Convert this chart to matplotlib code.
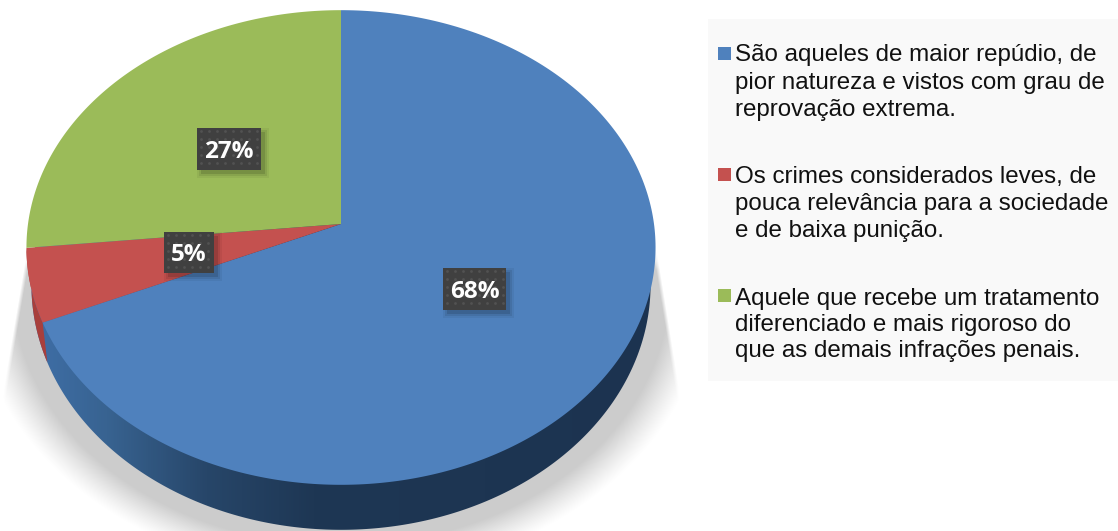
import numpy as np
import matplotlib
matplotlib.use("Agg")
import matplotlib.pyplot as plt
from matplotlib.patches import Rectangle, Polygon
from matplotlib.colors import LinearSegmentedColormap

values = [68.4, 5.0, 26.6]
colors = ["#4f81bd", "#c4514f", "#9bbb59"]
side_colors = ["#1c3350", "#a83f3c", "#6f8a3c"]
legend_labels = [
    "São aqueles de maior repúdio, de\npior natureza e vistos com grau de\nreprovação extrema.",
    "Os crimes considerados leves, de\npouca relevância para a sociedade\ne de baixa punição.",
    "Aquele que recebe um tratamento\ndiferenciado e mais rigoroso do\nque as demais infrações penais.",
]
label_boxes = [(443, 268, 63, 42), (164, 232, 50, 41), (197, 128, 64, 42)]
legend_y = [44, 166, 288]
legend_square_y = [47, 168, 289]
legend_spacing = [1.33, 1.28, 1.25]

W, H = 1118, 531
fig = plt.figure(figsize=(W / 100, H / 100), dpi=100, facecolor="white")
ax = fig.add_axes([0, 0, 1, 1])
ax.set_xlim(0, W)
ax.set_ylim(H, 0)
ax.axis("off")

CX, AY = 341, 224
k, bb, aa = 0.099, 235, 313


def top_pt(theta):
    x, y = np.sin(theta), np.cos(theta)
    d = 1 + k * y
    return CX + aa * x / d, AY - bb * y / d


def low_pt(theta):
    px, py = top_pt(theta)
    return CX + (px - CX) * 310 / 315, 285 + (py - 247.5) * 245 / 237.5


# cast shadow
yy, xx = np.mgrid[0:H, 0:W] + 0.5
r = np.sqrt(((xx - CX) / 310) ** 2 + ((yy - 285) / 245) ** 2)
dist = (r - 1) * 290
fall = np.clip((56 - dist) / 38, 0, 1) ** 1.2
left = 27 - (yy - 250) * 22 / 130
right = 657 + (yy - 250) * 21 / 130
edge = np.clip((xx - left) / 4, 0, 1) * np.clip((right - xx) / 4, 0, 1)
top_cut = np.clip((yy - 250) / 20, 0, 1)
alpha = 0.2 * fall * edge * top_cut
rgba = np.zeros((H, W, 4))
rgba[..., 3] = alpha
ax.imshow(rgba, extent=(0, W, H, 0), aspect="auto", zorder=1, interpolation="bilinear")

# side of the pie
th = np.linspace(0, 2 * np.pi, 721)
lx, ly = low_pt(th)
clip = Polygon(np.c_[lx, ly], closed=True, transform=ax.transData, fc="none", ec="none")
ax.add_patch(clip)
cmap = LinearSegmentedColormap.from_list(
    "side", [(0, "#3f6fa8"), (0.12, "#386391"), (0.28, "#274669"), (0.45, "#1e3754"), (1, "#1c3350")]
)
im = ax.imshow(np.linspace(0, 1, 640)[None, :], extent=(30, 660, H, 0), aspect="auto",
               cmap=cmap, zorder=2)
im.set_clip_path(clip)
ax.set_xlim(0, W)
ax.set_ylim(H, 0)

# wedges, clockwise from the top
fracs = np.cumsum([0] + values) / sum(values) * 2 * np.pi
for i in [1]:
    t = np.linspace(fracs[i], fracs[i + 1], 40)
    ax.fill(*np.r_[np.c_[top_pt(t)], np.c_[low_pt(t)][::-1]].T, color=side_colors[i], lw=0, zorder=3)
for i, v in enumerate(values):
    t = np.linspace(fracs[i], fracs[i + 1], 300)
    px, py = top_pt(t)
    ax.fill(np.r_[CX, px], np.r_[AY, py], color=colors[i], lw=0, zorder=4)

# data labels
for v, (x, y, w, h) in zip(values, label_boxes):
    for s, a in [(7, 0.05), (5, 0.08), (3, 0.12)]:
        ax.add_patch(Rectangle((x + 4 - s + 3, y + 4 - s + 3), w + 2 * s - 6, h + 2 * s - 6,
                               fc="black", ec="none", alpha=a, zorder=5))
    ax.add_patch(Rectangle((x, y), w, h, fc="#404040", ec="none", zorder=6))
    gx, gy = np.meshgrid(np.arange(x + 4, x + w, 8), np.arange(y + 3, y + h, 8))
    ax.scatter(gx.ravel(), gy.ravel(), s=4, c="#525252", lw=0, zorder=7)
    ax.text(x + w / 2, y + h / 2 + 2.5, f"{round(v)}%", color="white", fontsize=17.5, fontweight="bold",
            family="Open Sans", ha="center", va="center", zorder=8)

# legend
ax.add_patch(Rectangle((708, 19), 410, 362, fc="#f9f9f9", ec="none", zorder=1))
for c, lab, y, sy, ls in zip(colors, legend_labels, legend_y, legend_square_y, legend_spacing):
    ax.add_patch(Rectangle((718, sy), 13, 13, fc=c, ec="none", zorder=2))
    ax.text(735, y, lab, family="Liberation Sans", fontsize=17.35, color="#111111",
            va="top", ha="left", linespacing=ls, zorder=3)

fig.savefig("out.png", dpi=100)
